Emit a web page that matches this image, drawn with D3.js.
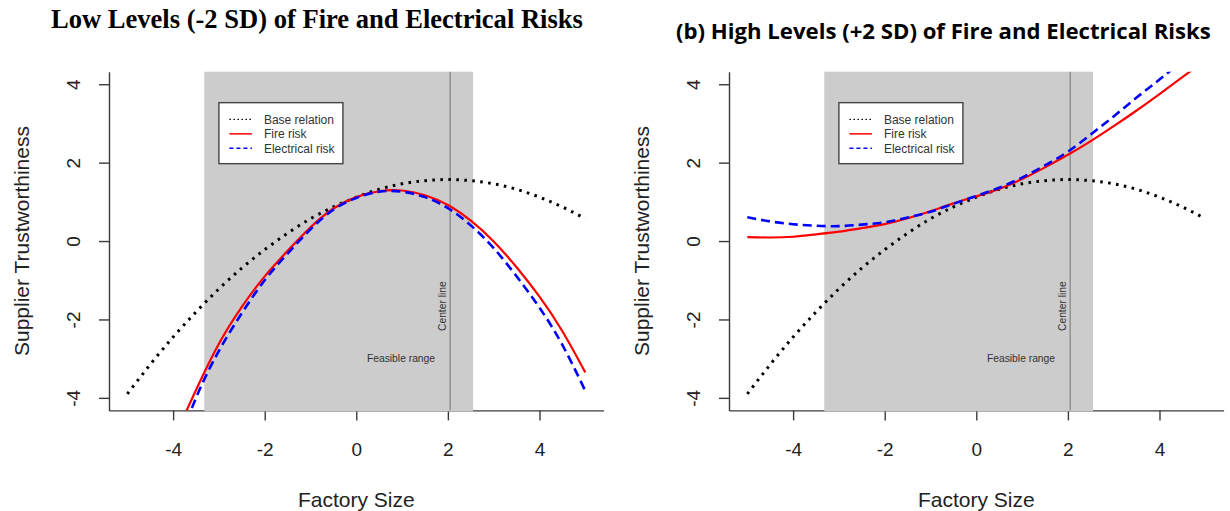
<!DOCTYPE html>
<html>
<head>
<meta charset="utf-8">
<script src="https://cdn.jsdelivr.net/npm/d3@7"></script>
<style>
  body { margin: 0; background: #fff; }
</style>
</head>
<body>
<div id="chart"></div>
<script>
// data
const factorySize = [-5, -4.5, -4, -3.5, -3, -2.5, -2, -1.5, -1, -0.5, 0, 0.5, 1, 1.5, 2, 2.5, 3, 3.5, 4, 4.5, 5]
const baseRelation = [-3.90, -3.15, -2.45, -1.81, -1.22, -0.69, -0.22, 0.20, 0.57, 0.87, 1.12, 1.32, 1.46, 1.54, 1.57, 1.54, 1.46, 1.32, 1.12, 0.87, 0.57]
const fireLow = [-8.0, -6.5, -5.1, -3.8, -2.62, -1.68, -0.9, -0.25, 0.35, 0.83, 1.12, 1.27, 1.29, 1.17, 0.92, 0.52, -0.01, -0.67, -1.42, -2.30, -3.35]
const elecLow = [-8.6, -7.0, -5.5, -4.0, -2.8, -1.84, -1.0, -0.32, 0.30, 0.80, 1.10, 1.26, 1.26, 1.12, 0.84, 0.40, -0.18, -0.90, -1.70, -2.65, -3.82]
const fireHigh = [0.10, 0.09, 0.11, 0.17, 0.24, 0.33, 0.43, 0.58, 0.76, 0.96, 1.14, 1.33, 1.58, 1.88, 2.20, 2.55, 2.93, 3.33, 3.75, 4.18, 4.62]
const elecHigh = [0.61, 0.50, 0.43, 0.39, 0.38, 0.42, 0.48, 0.60, 0.75, 0.95, 1.15, 1.36, 1.62, 1.93, 2.28, 2.72, 3.18, 3.66, 4.12, 4.60, 5.10]
const xTicks = [-4, -2, 0, 2, 4]
const yTicks = [-4, -2, 0, 2, 4]
const feasibleRange = [-3.32, 2.55]
const centerLine = 2.05
const legendLabels = ["Base relation", "Fire risk", "Electrical risk"]

const width = 1230, height = 511
const plotW = 494.6, plotTop = 71.7, plotBottom = 410.4

const svg = d3.select("#chart").append("svg")
    .attr("width", width)
    .attr("height", height)
    .style("font-family", "'Liberation Sans', Arial, sans-serif")

// series styles: base dotted black, fire solid red, electrical dashed blue
const styles = [
    { color: "#000", w: 3, dash: "2.6 5.4", lw: 1.4, ldash: "1.5 2.5" },
    { color: "#ff0000", w: 2.2, dash: null, lw: 1.5, ldash: null },
    { color: "#0000ff", w: 2.6, dash: "9 5", lw: 1.5, ldash: "4 3" }
]

const panels = [
    { left: 109, series: [baseRelation, fireLow, elecLow] },
    { left: 729, series: [baseRelation, fireHigh, elecHigh] }
]

panels.forEach((p, pi) => {
    let x = d3.scaleLinear().domain([-5.4, 5.4]).range([p.left, p.left + plotW])
    let y = d3.scaleLinear().domain([-4.32, 4.32]).range([plotBottom, plotTop])
    let g = svg.append("g")

    // clip to the plot region
    g.append("clipPath").attr("id", "clip" + pi)
        .append("rect")
        .attr("x", x(-5.4)).attr("y", y(4.32))
        .attr("width", plotW).attr("height", plotBottom - plotTop)

    // axes
    let xAxis = g.append("g")
        .attr("transform", `translate(0,${plotBottom})`)
        .call(d3.axisBottom(x).tickValues(xTicks).tickSize(10).tickSizeOuter(0).tickFormat(d3.format("d")))
    xAxis.selectAll("text").attr("y", 46).attr("dy", 0)
    let yAxis = g.append("g")
        .attr("transform", `translate(${p.left},0)`)
        .call(d3.axisLeft(y).tickValues(yTicks).tickSize(10).tickSizeOuter(0).tickFormat(d3.format("d")))
    yAxis.selectAll("text")
        .attr("x", 0).attr("dy", 0)
        .attr("text-anchor", "middle")
        .attr("transform", "translate(-29,0) rotate(-90)")
    g.selectAll(".domain, .tick line").attr("stroke", "#3a3a3a").attr("stroke-width", 1.4)
    g.selectAll(".tick text")
        .attr("font-size", 19)
        .attr("font-family", "'Liberation Sans', Arial, sans-serif")
        .attr("fill", "#222")
    g.selectAll(".tick text").each(function () {
        // R style minus
        let t = d3.select(this)
        t.text(t.text().replace("−", "-"))
    })

    // feasible range
    g.append("rect")
        .attr("x", x(feasibleRange[0]))
        .attr("y", plotTop)
        .attr("width", x(feasibleRange[1]) - x(feasibleRange[0]))
        .attr("height", plotBottom - plotTop + 1)
        .attr("fill", "#cccccc")
    // center line
    g.append("line")
        .attr("x1", x(centerLine)).attr("x2", x(centerLine))
        .attr("y1", plotTop).attr("y2", plotBottom)
        .attr("stroke", "#888").attr("stroke-width", 1.3)

    g.append("text")
        .attr("transform", `translate(${x(centerLine) - 4},${y(-1.66)}) rotate(-90)`)
        .attr("text-anchor", "middle")
        .attr("font-size", 10.3)
        .attr("fill", "#333")
        .text("Center line")
    g.append("text")
        .attr("x", x(1.72)).attr("y", y(-3.0) + 3.6)
        .attr("text-anchor", "end")
        .attr("font-size", 10.3)
        .attr("fill", "#333")
        .text("Feasible range")

    // curves
    let line = d3.line()
        .x((d, i) => x(factorySize[i]))
        .y(d => y(d))
        .curve(d3.curveNatural)
    let curves = g.append("g").attr("clip-path", `url(#clip${pi})`)
    p.series.forEach((s, si) => {
        curves.append("path")
            .datum(s)
            .attr("d", line)
            .attr("fill", "none")
            .attr("stroke", styles[si].color)
            .attr("stroke-width", styles[si].w)
            .attr("stroke-dasharray", styles[si].dash)
    })

    // legend
    let lx = x(-3.0), ly = y(3.53)
    let legend = g.append("g").attr("transform", `translate(${lx},${ly})`)
    legend.append("rect")
        .attr("width", 124).attr("height", 61)
        .attr("fill", "#fff")
        .attr("stroke", "#444").attr("stroke-width", 1.4)
    legendLabels.forEach((lab, li) => {
        let ry = 16.7 + li * 14.5
        legend.append("line")
            .attr("x1", 10.5).attr("x2", 33)
            .attr("y1", ry).attr("y2", ry)
            .attr("stroke", styles[li].color)
            .attr("stroke-width", styles[li].lw)
            .attr("stroke-dasharray", styles[li].ldash)
        legend.append("text")
            .attr("x", 45).attr("y", ry + 4.2)
            .attr("font-size", 12)
            .attr("fill", "#333")
            .text(lab)
    })

    // axis titles
    g.append("text")
        .attr("x", p.left + plotW / 2).attr("y", 506.5)
        .attr("text-anchor", "middle")
        .attr("font-size", 21)
        .attr("fill", "#222")
        .text("Factory Size")
    g.append("text")
        .attr("transform", `translate(${p.left - 80},${(plotTop + plotBottom) / 2}) rotate(-90)`)
        .attr("text-anchor", "middle")
        .attr("font-size", 21)
        .attr("fill", "#222")
        .text("Supplier Trustworthiness")
})

// titles, sized to the width they take in the picture
let lt = svg.append("text")
    .attr("x", 51).attr("y", 28)
    .attr("font-family", "'Liberation Serif', 'Times New Roman', serif")
    .attr("font-weight", "bold")
    .attr("font-size", 26)
    .text("Low Levels (-2 SD) of Fire and Electrical Risks")
lt.attr("font-size", 26 * 532 / lt.node().getComputedTextLength())
let rt = svg.append("text")
    .attr("x", 676).attr("y", 39)
    .attr("font-family", "'Open Sans', sans-serif")
    .attr("font-weight", "bold")
    .attr("font-size", 20)
    .text("(b) High Levels (+2 SD) of Fire and Electrical Risks")
rt.attr("font-size", 20 * 535 / rt.node().getComputedTextLength())
</script>
</body>
</html>
